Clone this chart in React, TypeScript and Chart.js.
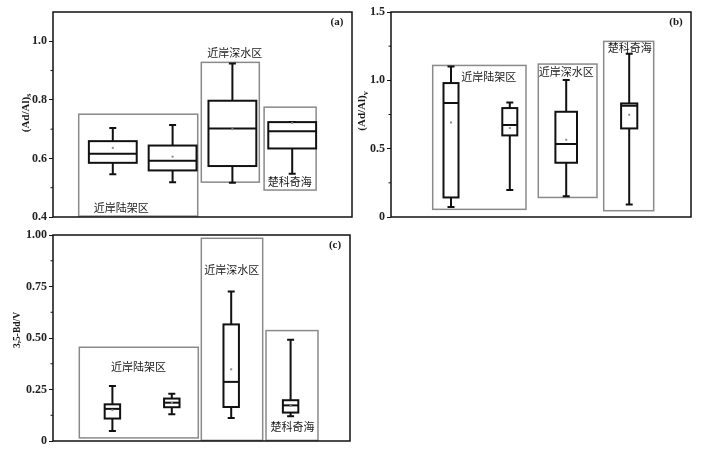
import React, { useEffect, useRef } from "react";
import { Chart, registerables } from "chart.js";

Chart.register(...registerables);

// ---------- Panel (a): (Ad/Al)s ----------
const posA = [1, 2, 3, 4];
const lowA = [0.546, 0.519, 0.517, 0.548];
const q1A = [0.585, 0.559, 0.574, 0.634];
const medA = [0.616, 0.592, 0.702, 0.693];
const q3A = [0.659, 0.644, 0.797, 0.724];
const highA = [0.704, 0.714, 0.924, 0.724];
const meanA = [0.636, 0.606, 0.7, 0.721];
const widthA = [0.8, 0.8, 0.8, 0.8];
const ticksA = [0.4, 0.6, 0.8, 1.0];
const tickLabelsA = ["0.4", "0.6", "0.8", "1.0"];
const minorA = [0.5, 0.7, 0.9];

// ---------- Panel (b): (Ad/Al)v ----------
const posB = [1, 1.98, 2.92, 3.97];
const lowB = [0.073, 0.197, 0.151, 0.092];
const q1B = [0.143, 0.597, 0.397, 0.648];
const medB = [0.834, 0.673, 0.534, 0.814];
const q3B = [0.98, 0.797, 0.77, 0.831];
const highB = [1.102, 0.838, 1.002, 1.195];
const meanB = [0.692, 0.651, 0.565, 0.748];
const widthB = [0.25, 0.25, 0.36, 0.27];
const ticksB = [0, 0.5, 1.0, 1.5];
const tickLabelsB = ["0", "0.5", "1.0", "1.5"];
const minorB = [0.25, 0.75, 1.25];

// ---------- Panel (c): 3,5-Bd/V ----------
const posC = [1, 2, 3, 4];
const lowC = [0.049, 0.13, 0.112, 0.12];
const q1C = [0.109, 0.164, 0.165, 0.138];
const medC = [0.156, 0.186, 0.287, 0.173];
const q3C = [0.178, 0.206, 0.566, 0.198];
const highC = [0.267, 0.229, 0.726, 0.491];
const meanC = [0.15, 0.185, 0.348, 0.17];
const widthC = [0.26, 0.26, 0.26, 0.26];
const ticksC = [0, 0.25, 0.5, 0.75, 1.0];
const tickLabelsC = ["0", "0.25", "0.50", "0.75", "1.00"];
const minorC = [0.125, 0.375, 0.625, 0.875];

// Region names
const regionNames = ["近岸陆架区", "近岸深水区", "楚科奇海"];

// Region rectangles [x0, x1, y0, y1] in data units, and label anchors [x, y]
const regionsA = [
  [0.43, 2.42, 0.403, 0.751],
  [2.48, 3.45, 0.519, 0.928],
  [3.53, 4.4, 0.492, 0.775],
];
const regionLabelsA = [
  [1.14, 0.431],
  [3.04, 0.959],
  [3.96, 0.519],
];
const regionsB = [
  [0.695, 2.25, 0.056, 1.109],
  [2.455, 3.433, 0.143, 1.119],
  [3.545, 4.378, 0.046, 1.285],
];
const regionLabelsB = [
  [1.63, 1.026],
  [2.92, 1.065],
  [3.98, 1.236],
];
const regionsC = [
  [0.443, 2.446, 0.015, 0.455],
  [2.497, 3.53, 0.003, 0.984],
  [3.586, 4.461, 0.003, 0.536],
];
const regionLabelsC = [
  [1.44, 0.36],
  [3.01, 0.833],
  [4.03, 0.068],
];

const SERIF = "'Liberation Serif', 'Times New Roman', serif";
const CJK = "'Noto Sans CJK SC', sans-serif";

type Panel = {
  tag: string;
  title: string;
  sub: string;
  titleSize: number;
  titleDx: number;
  titleY: number;
  pos: number[];
  low: number[];
  q1: number[];
  med: number[];
  q3: number[];
  high: number[];
  mean: number[];
  width: number[];
  ticks: number[];
  tickLabels: string[];
  minor: number[];
  yMin: number;
  yMax: number;
  regions: number[][];
  regionLabels: number[][];
  canvas: { left: number; top: number; width: number; height: number };
  axisWidth: number;
  pad: { top: number; right: number; bottom: number };
};

const panels: Panel[] = [
  {
    tag: "(a)", title: "(Ad/Al)", sub: "s", titleSize: 11, titleDx: 28.5, titleY: 113,
    pos: posA, low: lowA, q1: q1A, med: medA, q3: q3A, high: highA, mean: meanA, width: widthA,
    ticks: ticksA, tickLabels: tickLabelsA, minor: minorA, yMin: 0.4, yMax: 1.1,
    regions: regionsA, regionLabels: regionLabelsA,
    canvas: { left: 0, top: 0, width: 360, height: 228 }, axisWidth: 53,
    pad: { top: 12, right: 8, bottom: 11 },
  },
  {
    tag: "(b)", title: "(Ad/Al)", sub: "v", titleSize: 11, titleDx: 30, titleY: 111,
    pos: posB, low: lowB, q1: q1B, med: medB, q3: q3B, high: highB, mean: meanB, width: widthB,
    ticks: ticksB, tickLabels: tickLabelsB, minor: minorB, yMin: 0, yMax: 1.5,
    regions: regionsB, regionLabels: regionLabelsB,
    canvas: { left: 345, top: 0, width: 369, height: 228 }, axisWidth: 46,
    pad: { top: 12, right: 23, bottom: 11 },
  },
  {
    tag: "(c)", title: "3,5-Bd/V", sub: "", titleSize: 9.5, titleDx: 37, titleY: 330,
    pos: posC, low: lowC, q1: q1C, med: medC, q3: q3C, high: highC, mean: meanC, width: widthC,
    ticks: ticksC, tickLabels: tickLabelsC, minor: minorC, yMin: 0, yMax: 1.0,
    regions: regionsC, regionLabels: regionLabelsC,
    canvas: { left: 0, top: 222, width: 360, height: 230 }, axisWidth: 53,
    pad: { top: 13, right: 10, bottom: 11 },
  },
];

function makePlugin(p: Panel) {
  return {
    id: "boxplot" + p.tag,
    beforeDatasetsDraw(chart: any) {
      const ctx = chart.ctx;
      const xs = chart.scales.x;
      const ys = chart.scales.y;
      ctx.save();
      // region rectangles
      ctx.strokeStyle = "#8a8a8a";
      ctx.lineWidth = 1.5;
      p.regions.forEach((r) => {
        const x0 = xs.getPixelForValue(r[0]);
        const x1 = xs.getPixelForValue(r[1]);
        const y0 = ys.getPixelForValue(r[2]);
        const y1 = ys.getPixelForValue(r[3]);
        ctx.strokeRect(x0, y1, x1 - x0, y0 - y1);
      });
      // boxes
      ctx.strokeStyle = "#111";
      ctx.lineWidth = 2;
      p.pos.forEach((x, i) => {
        const cx = xs.getPixelForValue(x);
        const half = (xs.getPixelForValue(x + p.width[i] / 2) - xs.getPixelForValue(x - p.width[i] / 2)) / 2;
        const yl = ys.getPixelForValue(p.low[i]);
        const y1 = ys.getPixelForValue(p.q1[i]);
        const ym = ys.getPixelForValue(p.med[i]);
        const y3 = ys.getPixelForValue(p.q3[i]);
        const yh = ys.getPixelForValue(p.high[i]);
        ctx.beginPath();
        ctx.moveTo(cx, yl); ctx.lineTo(cx, y1);
        ctx.moveTo(cx, y3); ctx.lineTo(cx, yh);
        ctx.moveTo(cx - 3.5, yl); ctx.lineTo(cx + 3.5, yl);
        ctx.moveTo(cx - 3.5, yh); ctx.lineTo(cx + 3.5, yh);
        ctx.stroke();
        ctx.fillStyle = "#fff";
        ctx.fillRect(cx - half, y3, 2 * half, y1 - y3);
        ctx.strokeRect(cx - half, y3, 2 * half, y1 - y3);
        ctx.beginPath();
        ctx.moveTo(cx - half, ym); ctx.lineTo(cx + half, ym);
        ctx.stroke();
      });
      ctx.restore();
    },
    afterDraw(chart: any) {
      const ctx = chart.ctx;
      const xs = chart.scales.x;
      const ys = chart.scales.y;
      const a = chart.chartArea;
      ctx.save();
      // frame
      ctx.strokeStyle = "#111";
      ctx.lineWidth = 1.5;
      ctx.strokeRect(a.left, a.top, a.right - a.left, a.bottom - a.top);
      // minor ticks
      ctx.lineWidth = 1;
      ctx.beginPath();
      p.minor.forEach((v) => {
        const y = ys.getPixelForValue(v);
        ctx.moveTo(a.left - 2.5, y); ctx.lineTo(a.left, y);
      });
      ctx.stroke();
      // region labels
      ctx.fillStyle = "#1a1a1a";
      ctx.font = `11px ${CJK}`;
      ctx.textAlign = "center";
      ctx.textBaseline = "middle";
      p.regionLabels.forEach((l, i) => {
        ctx.fillText(regionNames[i], xs.getPixelForValue(l[0]), ys.getPixelForValue(l[1]));
      });
      // panel tag
      ctx.font = `bold 11px ${SERIF}`;
      ctx.fillText(p.tag, a.right - 15, a.top + 10);
      // y title
      const tx = a.left - p.titleDx;
      const ty = p.titleY - p.canvas.top;
      ctx.translate(tx, ty);
      ctx.rotate(-Math.PI / 2);
      ctx.font = `bold ${p.titleSize}px ${SERIF}`;
      const w1 = ctx.measureText(p.title).width;
      ctx.font = `bold ${p.titleSize * 0.72}px ${SERIF}`;
      const w2 = p.sub ? ctx.measureText(p.sub).width : 0;
      const start = -(w1 + w2) / 2;
      ctx.textAlign = "left";
      ctx.textBaseline = "alphabetic";
      ctx.font = `bold ${p.titleSize}px ${SERIF}`;
      ctx.fillText(p.title, start, 4);
      if (p.sub) {
        ctx.font = `bold ${p.titleSize * 0.72}px ${SERIF}`;
        ctx.fillText(p.sub, start + w1, 6.5);
      }
      ctx.restore();
    },
  };
}

function PanelChart({ p }: { p: Panel }) {
  const ref = useRef<HTMLCanvasElement | null>(null);
  useEffect(() => {
    if (!ref.current) return;
    const chart = new Chart(ref.current, {
      type: "scatter",
      data: {
        datasets: [
          {
            data: p.pos.map((x, i) => ({ x, y: p.mean[i] })),
            pointStyle: "rect",
            pointRadius: 1.4,
            pointHoverRadius: 1.4,
            backgroundColor: "#8c8c8c",
            borderWidth: 0,
          },
        ],
      },
      options: {
        animation: false,
        responsive: false,
        devicePixelRatio: 1,
        events: [],
        layout: { padding: { top: p.pad.top, right: p.pad.right, bottom: p.pad.bottom, left: 0 } },
        plugins: { legend: { display: false }, tooltip: { enabled: false } },
        scales: {
          x: { type: "linear", min: 0, max: 5, display: false },
          y: {
            type: "linear",
            min: p.yMin,
            max: p.yMax,
            afterFit: (s: any) => { s.width = p.axisWidth; },
            afterBuildTicks: (ax: any) => { ax.ticks = p.ticks.map((v) => ({ value: v })); },
            ticks: {
              callback: (_v: any, i: number) => p.tickLabels[i],
              font: { family: SERIF, weight: "bold", size: 12 },
              color: "#222",
              padding: 2,
            },
            grid: { drawOnChartArea: false, drawTicks: true, tickLength: 4, color: "#111", lineWidth: 1 },
            border: { display: false },
          },
        },
      } as any,
      plugins: [makePlugin(p)],
    });
    return () => chart.destroy();
  }, [p]);
  return (
    <canvas
      ref={ref}
      width={p.canvas.width}
      height={p.canvas.height}
      style={{ position: "absolute", left: p.canvas.left, top: p.canvas.top, width: p.canvas.width, height: p.canvas.height }}
    />
  );
}

export default function App() {
  return (
    <div style={{ position: "absolute", left: 0, top: 0, width: 714, height: 452, background: "#fff" }}>
      {panels.map((p) => (
        <PanelChart key={p.tag} p={p} />
      ))}
    </div>
  );
}
